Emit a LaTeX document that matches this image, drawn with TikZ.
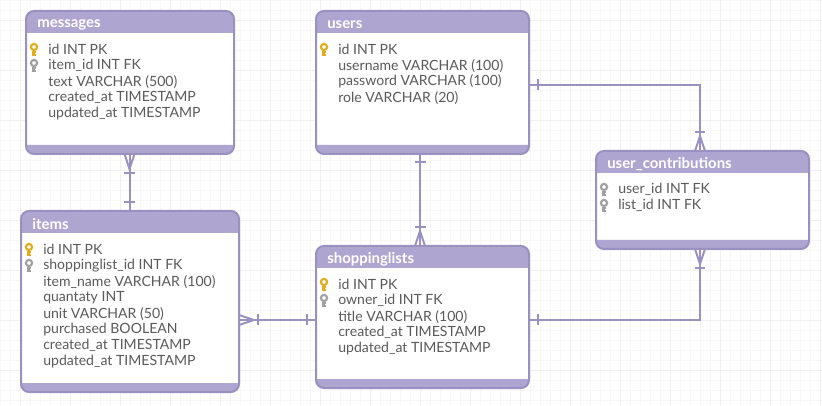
\documentclass[tikz,border=0pt]{standalone}
\usepackage{fontspec}
\setmainfont{Lato}
\usetikzlibrary{positioning}
\definecolor{erline}{HTML}{9A91C0}
\definecolor{erhead}{HTML}{AEA6D0}
\definecolor{ergold}{HTML}{E2AC1B}
\definecolor{ergray}{HTML}{A0A0A0}
\definecolor{ertext}{HTML}{5A5A5A}
\definecolor{gridminor}{HTML}{F7F7F7}
\definecolor{gridmajor}{HTML}{F0F0F0}
% px units, y downward
\tikzset{
  x=0.75pt, y=-0.75pt,
  rel/.style={erline, line width=1.5pt},
  field/.style={text=ertext, font=\fontsize{10.55}{12}\selectfont, anchor=west, inner sep=0pt},
  title/.style={text=white, font=\fontsize{11.2}{12}\selectfont\bfseries, anchor=west, inner sep=0pt}
}
% table: name, left, top, right, bottom
\newcommand{\ertable}[6]{
  \fill[white, rounded corners=6pt] (#2,#3) rectangle (#4,#5);
  \fill[erhead, rounded corners=6pt] (#2,#3+22) [sharp corners] -- (#2,#3+22) [rounded corners=6pt] -- (#2,#3) -- (#4,#3) [sharp corners] -- (#4,#3+22) -- cycle;
  \fill[erhead, rounded corners=6pt] (#2,#5-9) -- (#2,#5) -- (#4,#5) [sharp corners] -- (#4,#5-9) -- cycle;
  \draw[erline, line width=1.5pt, rounded corners=6pt] (#2,#3) rectangle (#4,#5);
  \node[title] (#1) at (#2+11,#3+13.5) {#6};
}
% key icon: position, colour
\newcommand{\erkey}[2]{
  \draw[#2, line width=1.6pt] (#1) ++(0,-2) circle (3.1);
  \fill[#2] (#1) ++(-2,2) rectangle ++(4,5.5);
  \fill[white] (#1) ++(0.8,4) rectangle ++(1.4,1);
}
\newcommand{\erfields}[5]{
  \foreach \txt [count=\n from 0] in {#5} {
    \node[field] (#1\n) at (#2,#3+16*\n) {\txt};
  }
}
\begin{document}
\begin{tikzpicture}
\useasboundingbox (0,0) rectangle (822,406);
\fill[white] (0,0) rectangle (822,406);

\foreach \x in {0,10,...,820} \draw[gridminor, line width=0.6pt] (\x,0) -- (\x,406);
\foreach \y in {0,10,...,400} \draw[gridminor, line width=0.6pt] (0,\y) -- (822,\y);
\foreach \x in {20,70,...,820} \draw[gridmajor, line width=0.6pt] (\x,0) -- (\x,406);
\foreach \y in {20,70,...,400} \draw[gridmajor, line width=0.6pt] (0,\y) -- (822,\y);

% connectors
\coordinate (itemtop) at (129.5,211);
\coordinate (msgbot) at (129.5,154);
\draw[rel] (msgbot) -- (itemtop);
\draw[rel] (124,173) -- (135,173);
\draw[rel] (124,202) -- (135,202);
\draw[rel] (124.5,154) -- (129.5,169) -- (134.5,154);

\coordinate (userbot) at (420,154);
\coordinate (listtop) at (420,246);
\draw[rel] (userbot) -- (listtop);
\draw[rel] (415,162) -- (426,162);
\draw[rel] (415,227) -- (426,227);
\draw[rel] (415,246) -- (420,231) -- (425,246);

\coordinate (listleft) at (316,320);
\coordinate (itemright) at (239,320);
\draw[rel] (itemright) -- (listleft);
\draw[rel] (258,314.5) -- (258,325.5);
\draw[rel] (307,314.5) -- (307,325.5);
\draw[rel] (239,315) -- (254,320) -- (239,325);

\coordinate (userright) at (529,85);
\coordinate (ctop) at (700,151);
\draw[rel] (userright) -| (ctop);
\draw[rel] (538,79.5) -- (538,90.5);
\draw[rel] (695,132) -- (705,132);
\draw[rel] (695,151) -- (700,136) -- (705,151);

\coordinate (listright) at (529,320);
\coordinate (cbot) at (700,249);
\draw[rel] (listright) -| (cbot);
\draw[rel] (538,314.5) -- (538,325.5);
\draw[rel] (695,268) -- (705,268);
\draw[rel] (695,249) -- (700,264) -- (705,249);

% tables
\ertable{messages}{26}{11}{234}{154}{messages}
\ertable{users}{316}{11}{529}{154}{users}
\ertable{items}{21}{211}{239}{392}{items}
\ertable{shoppinglists}{316}{246}{529}{388}{shoppinglists}
\ertable{contrib}{596}{151}{809}{249}{user\_contributions}

\erfields{msg}{48}{49.7}{}{id INT PK,item\_id INT FK,text VARCHAR (500),created\_at TIMESTAMP,updated\_at TIMESTAMP}
\erfields{usr}{338}{49.7}{}{id INT PK,username VARCHAR (100),password VARCHAR (100),role VARCHAR (20)}
\erfields{itm}{43}{249.7}{}{id INT PK,shoppinglist\_id INT FK,item\_name VARCHAR (100),quantaty INT,unit VARCHAR (50),purchased BOOLEAN,created\_at TIMESTAMP,updated\_at TIMESTAMP}
\erfields{lst}{338}{284.7}{}{id INT PK,owner\_id INT FK,title VARCHAR (100),created\_at TIMESTAMP,updated\_at TIMESTAMP}
\erfields{con}{618}{189.7}{}{user\_id INT FK,list\_id INT FK}

\erkey{34,49}{ergold}
\erkey{34,65}{ergray}
\erkey{324,49}{ergold}
\erkey{29,249}{ergold}
\erkey{29,265}{ergray}
\erkey{324,284}{ergold}
\erkey{324,300}{ergray}
\erkey{604,189}{ergray}
\erkey{604,205}{ergray}
\end{tikzpicture}
\end{document}
